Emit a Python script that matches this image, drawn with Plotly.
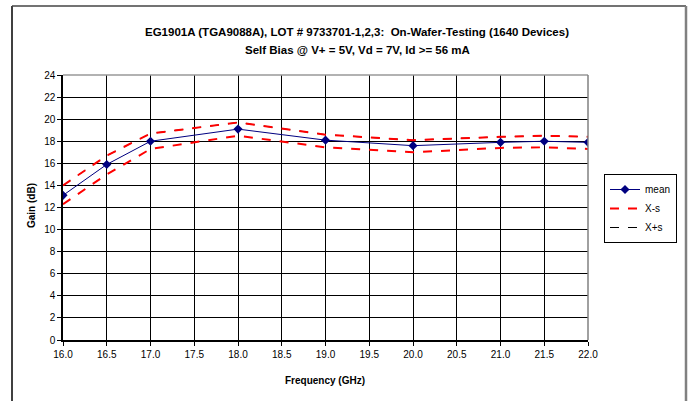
import plotly.graph_objects as go

freq = [16.0, 16.5, 17.0, 18.0, 19.0, 20.0, 21.0, 21.5, 22.0]
mean = [13.1, 15.9, 18.0, 19.1, 18.1, 17.6, 17.9, 18.0, 17.9]
x_minus_s = [12.3, 15.0, 17.3, 18.5, 17.45, 17.0, 17.4, 17.45, 17.3]
x_plus_s = [14.0, 16.7, 18.7, 19.7, 18.6, 18.1, 18.4, 18.5, 18.4]
x_ticks = [16.0, 16.5, 17.0, 17.5, 18.0, 18.5, 19.0, 19.5, 20.0, 20.5, 21.0, 21.5, 22.0]
y_ticks = list(range(0, 25, 2))

FONT = "Liberation Sans, Arial, sans-serif"

fig = go.Figure()
fig.add_trace(go.Scatter(x=freq, y=mean, name="mean", mode="lines+markers",
                         line=dict(color="#000080", width=1),
                         marker=dict(symbol="diamond", size=7, color="#000080")))
fig.add_trace(go.Scatter(x=freq, y=x_minus_s, name="X-s", mode="lines",
                         line=dict(color="#ff0000", width=2, dash="dash")))
fig.add_trace(go.Scatter(x=freq, y=x_plus_s, name="X+s", mode="lines",
                         line=dict(color="#000000", width=1, dash="dash")))
fig.add_trace(go.Scatter(x=freq, y=x_plus_s, name="X+s", mode="lines", showlegend=False,
                         line=dict(color="#ff0000", width=2, dash="dash")))

W, H = 690, 401
# on-screen plot box: x 63..588, y 75..340
L, T = 63, 75
R = W - 588
B = H - 340
pw, ph = W - L - R, H - T - B

def px(xs):
    return (xs - L) / pw

def py(ys):
    return (H - B - ys) / ph

shapes = [
    dict(type="line", xref="paper", yref="paper", x0=px(12), x1=px(12), y0=py(6), y1=py(405),
         line=dict(color="black", width=1.5)),
    dict(type="line", xref="paper", yref="paper", x0=px(12), x1=px(686), y0=py(6), y1=py(6),
         line=dict(color="#444444", width=1.5)),
    dict(type="line", xref="paper", yref="paper", x0=px(686), x1=px(686), y0=py(6), y1=py(405),
         line=dict(color="#808080", width=2.5)),
    dict(type="line", xref="paper", yref="paper", x0=0, x1=1, y0=1, y1=1,
         line=dict(color="#999999", width=1.5)),
    dict(type="line", xref="paper", yref="paper", x0=1, x1=1, y0=0, y1=1,
         line=dict(color="#808080", width=1.5)),
]

annotations = [
    dict(text="<b>EG1901A (TGA9088A), LOT # 9733701-1,2,3:  On-Wafer-Testing (1640 Devices)</b>",
         xref="paper", yref="paper", x=px(357), y=py(32), xanchor="center", yanchor="middle",
         showarrow=False, font=dict(family=FONT, size=11.5, color="black")),
    dict(text="<b>Self Bias @ V+ = 5V, Vd = 7V, Id >= 56 mA</b>",
         xref="paper", yref="paper", x=px(357), y=py(50), xanchor="center", yanchor="middle",
         showarrow=False, font=dict(family=FONT, size=11.5, color="black")),
    dict(text="<b>Frequency (GHz)</b>",
         xref="paper", yref="paper", x=px(325), y=py(380), xanchor="center", yanchor="middle",
         showarrow=False, font=dict(family=FONT, size=10, color="black")),
    dict(text="<b>Gain (dB)</b>", textangle=-90,
         xref="paper", yref="paper", x=px(31), y=py(206), xanchor="center", yanchor="middle",
         showarrow=False, font=dict(family=FONT, size=10, color="black")),
]

fig.update_layout(
    width=W, height=H,
    margin=dict(l=L, r=R, t=T, b=B, autoexpand=False),
    paper_bgcolor="white", plot_bgcolor="white",
    font=dict(family=FONT, size=10, color="black"),
    xaxis=dict(range=[16, 22], tickvals=x_ticks, ticktext=[f"{v:.1f}" for v in x_ticks],
               showgrid=True, gridcolor="black", gridwidth=1,
               showline=True, linecolor="black", linewidth=1.5,
               ticks="outside", ticklen=4, tickcolor="black",
               zeroline=False, automargin=False),
    yaxis=dict(range=[0, 24], tickvals=y_ticks,
               showgrid=True, gridcolor="black", gridwidth=1,
               showline=True, linecolor="black", linewidth=1.5,
               ticks="outside", ticklen=4, tickcolor="black",
               zeroline=False, automargin=False),
    legend=dict(x=px(604), y=py(174), xanchor="left", yanchor="top",
                bordercolor="black", borderwidth=1, bgcolor="white",
                font=dict(size=10), tracegroupgap=0, itemwidth=30),
    shapes=shapes,
    annotations=annotations,
    showlegend=True,
)

fig.write_html("out.html", config={"displayModeBar": False},
               post_script="document.body.style.margin='0';document.body.style.overflow='hidden';")
